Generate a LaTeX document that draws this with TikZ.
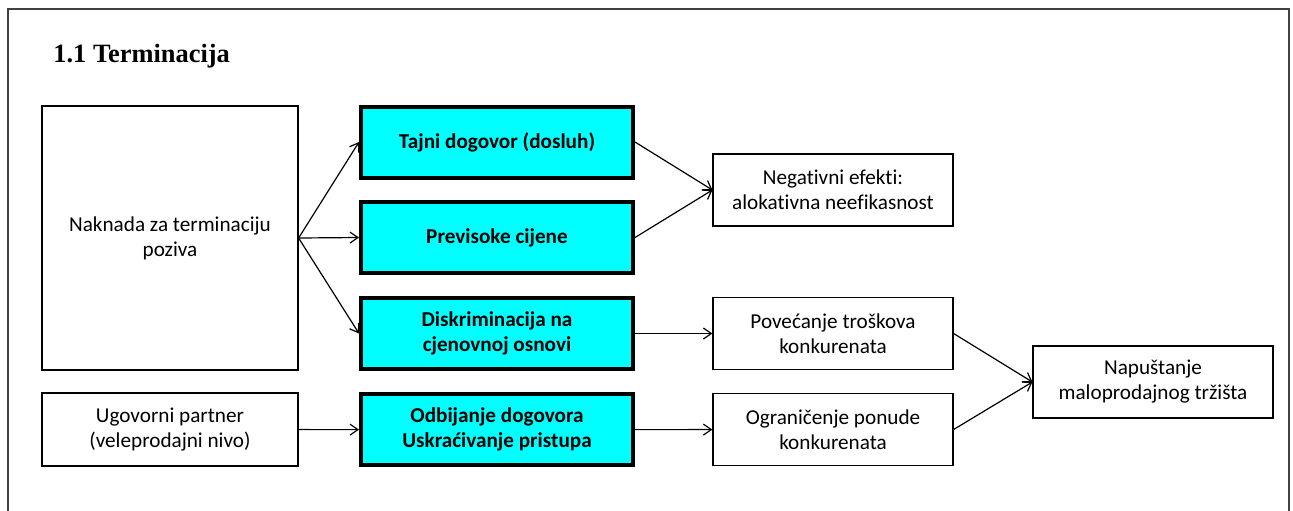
\documentclass[tikz,border=0pt]{standalone}
\usepackage{fontspec}
\setmainfont{Carlito}[Ligatures=NoCommon]
\newfontfamily\titlefont{Liberation Serif}
\usepackage{tikz}
\usepackage{xcolor}
\usetikzlibrary{
    arrows.meta,
    positioning,
    calc
}
\definecolor{aqua}{RGB}{0,255,255}

\begin{document}
\begin{tikzpicture}[
        x=0.5pt, y=-0.5pt,
        block/.style={draw, line width=0.6pt, minimum width=120pt, minimum height=36pt, align=center, inner sep=2pt, font=\fontsize{10.6}{12.5}\selectfont},
        keyblock/.style={block, draw, line width=2pt, fill=aqua, minimum width=136pt, minimum height=35.5pt, font=\fontsize{10.6}{12.5}\selectfont\bfseries},
        arrow/.style={-{Straight Barb[length=4pt, width=5.5pt]}, line width=0.6pt},
        frame/.style={draw=black!75, line width=1pt}
    ]
        \useasboundingbox (0,0) rectangle (1293,510);

        % Frame and title
        \draw[frame] (8,520) -- (8,9) -- (1289,9) -- (1289,520);
        \node[anchor=base west, inner sep=0pt, font=\titlefont\fontsize{13.2}{15}\selectfont\bfseries] (title) at (53,62) {1.1 Terminacija};

        % Sources
        \node[block, minimum width=128pt, minimum height=132pt] (naknada) at (170, 238) {Naknada za terminaciju\\poziva};
        \node[block, minimum width=128pt, minimum height=36.5pt] (ugovorni) at (170, 429.5) {Ugovorni partner\\(veleprodajni nivo)};

        % Practices
        \node[keyblock] (tajni) at (497, 142) {Tajni dogovor (dosluh)};
        \node[keyblock] (previsoke) at (497, 237.5) {Previsoke cijene};
        \node[keyblock] (diskrim) at (497, 333.5) {Diskriminacija na\\cjenovnoj osnovi};
        \node[keyblock] (odbijanje) at (497, 429.7) {Odbijanje dogovora\\Uskraćivanje pristupa};

        % Effects
        \node[block] (negativni) at (833, 190) {Negativni efekti:\\alokativna neefikasnost};
        \node[block] (povecanje) at (833, 333.5) {Povećanje troškova\\konkurenata};
        \node[block] (ogranicenje) at (833, 429.5) {Ograničenje ponude\\konkurenata};

        % Outcome
        \node[block] (napustanje) at (1153, 382) {Napuštanje\\maloprodajnog tržišta};

        % Arrows
        \draw[arrow] (naknada.east) -- (tajni.west);
        \draw[arrow] (naknada.east) -- (previsoke.west);
        \draw[arrow] (naknada.east) -- (diskrim.west);
        \draw[arrow] (ugovorni) -- (odbijanje);

        \draw[arrow] (tajni.east) -- (negativni.west);
        \draw[arrow] (previsoke.east) -- (negativni.west);
        \draw[arrow] (diskrim) -- (povecanje);
        \draw[arrow] (odbijanje) -- (ogranicenje);

        \draw[arrow] (povecanje.east) -- (napustanje.west);
        \draw[arrow] (ogranicenje.east) -- (napustanje.west);
    \end{tikzpicture}
\end{document}
